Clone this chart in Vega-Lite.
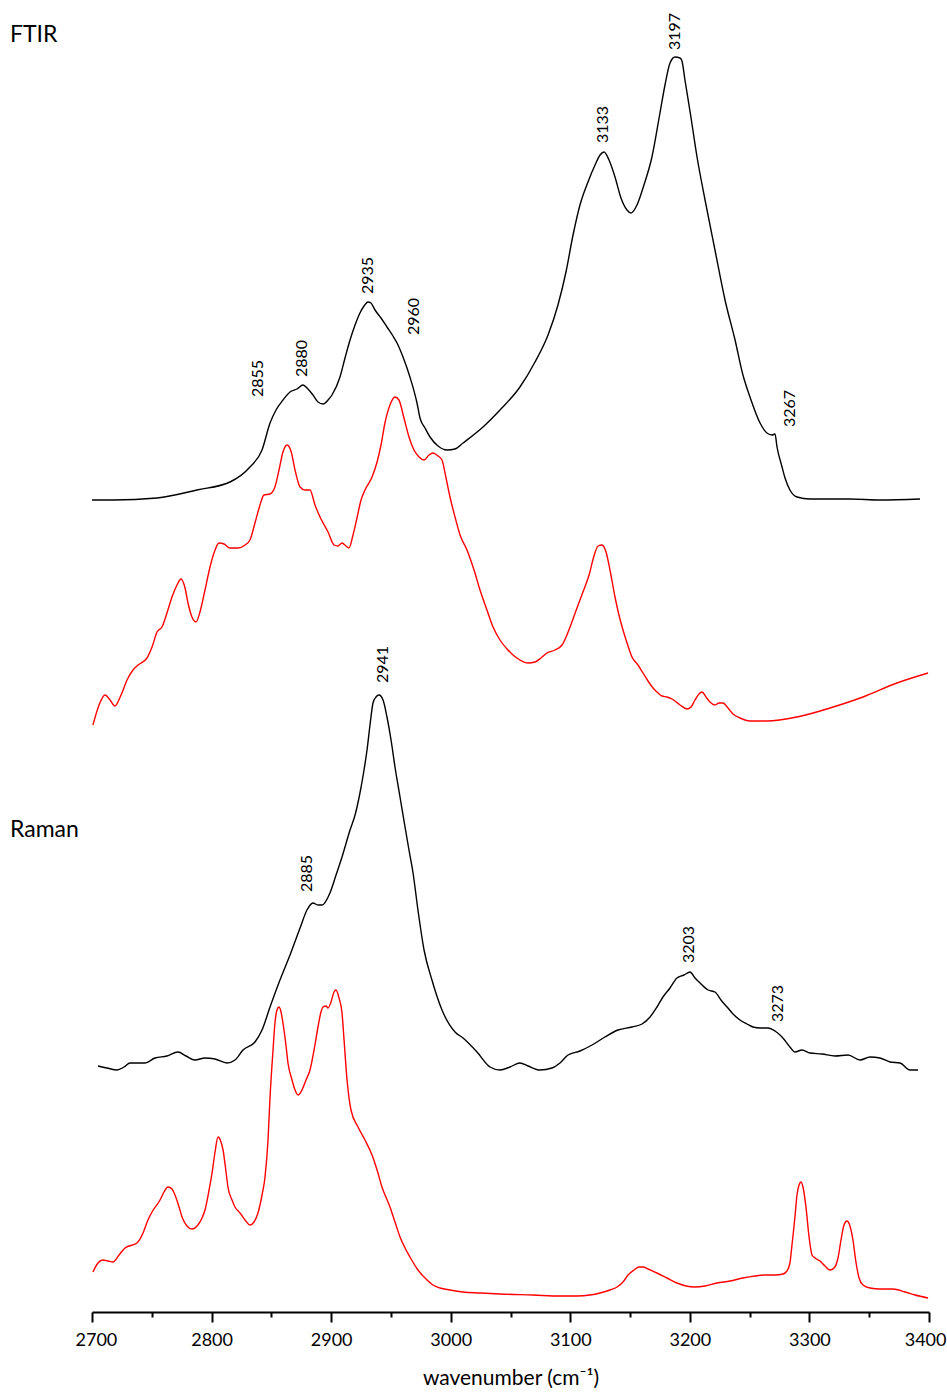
{
"$schema": "https://vega.github.io/schema/vega-lite/v6.json",
"width": 837, "height": 1312,
"autosize": {"type": "none"},
"padding": {"left": 92, "top": 0, "right": 18, "bottom": 80},
"background": "white",
"config": {"view": {"stroke": null}, "font": "Lato"},
"datasets": {
"spectra": [
{"s":"FTIR","wn":2700,"v":812},{"s":"FTIR","wn":2717.6,"v":812},{"s":"FTIR","wn":2754.4,"v":814},{"s":"FTIR","wn":2787.8,"v":822},{"s":"FTIR","wn":2815.4,"v":830},{"s":"FTIR","wn":2832.1,"v":845},{"s":"FTIR","wn":2842.2,"v":862},{"s":"FTIR","wn":2848.9,"v":889},{"s":"FTIR","wn":2853.9,"v":902},{"s":"FTIR","wn":2859.7,"v":912},{"s":"FTIR","wn":2865.6,"v":920},{"s":"FTIR","wn":2871.4,"v":923},{"s":"FTIR","wn":2876.5,"v":927},{"s":"FTIR","wn":2880.6,"v":923},{"s":"FTIR","wn":2884.8,"v":917},{"s":"FTIR","wn":2889.0,"v":910},{"s":"FTIR","wn":2893.2,"v":908},{"s":"FTIR","wn":2897.4,"v":912},{"s":"FTIR","wn":2900.7,"v":917},{"s":"FTIR","wn":2907.4,"v":935},{"s":"FTIR","wn":2911.6,"v":954},{"s":"FTIR","wn":2915.8,"v":972},{"s":"FTIR","wn":2920.0,"v":987},{"s":"FTIR","wn":2924.1,"v":999},{"s":"FTIR","wn":2927.5,"v":1006},{"s":"FTIR","wn":2930.8,"v":1010},{"s":"FTIR","wn":2933.3,"v":1009},{"s":"FTIR","wn":2936.7,"v":1002},{"s":"FTIR","wn":2941.7,"v":994},{"s":"FTIR","wn":2946.7,"v":985},{"s":"FTIR","wn":2951.7,"v":976},{"s":"FTIR","wn":2955.1,"v":969},{"s":"FTIR","wn":2960.1,"v":955},{"s":"FTIR","wn":2965.9,"v":935},{"s":"FTIR","wn":2971.8,"v":909},{"s":"FTIR","wn":2974.3,"v":894},{"s":"FTIR","wn":2978.5,"v":884},{"s":"FTIR","wn":2982.7,"v":875},{"s":"FTIR","wn":2989.4,"v":866},{"s":"FTIR","wn":2996.9,"v":862},{"s":"FTIR","wn":3003.6,"v":863},{"s":"FTIR","wn":3010.3,"v":869},{"s":"FTIR","wn":3027.0,"v":885},{"s":"FTIR","wn":3041.2,"v":902},{"s":"FTIR","wn":3057.9,"v":925},{"s":"FTIR","wn":3070.5,"v":950},{"s":"FTIR","wn":3081.4,"v":977},{"s":"FTIR","wn":3089.7,"v":1007},{"s":"FTIR","wn":3096.4,"v":1040},{"s":"FTIR","wn":3102.3,"v":1077},{"s":"FTIR","wn":3108.1,"v":1107},{"s":"FTIR","wn":3114.8,"v":1130},{"s":"FTIR","wn":3120.7,"v":1147},{"s":"FTIR","wn":3124.9,"v":1157},{"s":"FTIR","wn":3128.2,"v":1160},{"s":"FTIR","wn":3132.4,"v":1152},{"s":"FTIR","wn":3137.4,"v":1135},{"s":"FTIR","wn":3142.4,"v":1114},{"s":"FTIR","wn":3147.4,"v":1102},{"s":"FTIR","wn":3150.8,"v":1099},{"s":"FTIR","wn":3155.8,"v":1107},{"s":"FTIR","wn":3161.6,"v":1127},{"s":"FTIR","wn":3168.3,"v":1155},{"s":"FTIR","wn":3175.0,"v":1199},{"s":"FTIR","wn":3179.2,"v":1227},{"s":"FTIR","wn":3183.4,"v":1249},{"s":"FTIR","wn":3187.6,"v":1255},{"s":"FTIR","wn":3191.8,"v":1254},{"s":"FTIR","wn":3193.4,"v":1251},{"s":"FTIR","wn":3195.9,"v":1232},{"s":"FTIR","wn":3201.0,"v":1194},{"s":"FTIR","wn":3206.0,"v":1155},{"s":"FTIR","wn":3212.7,"v":1112},{"s":"FTIR","wn":3221.0,"v":1062},{"s":"FTIR","wn":3229.4,"v":1012},{"s":"FTIR","wn":3237.8,"v":972},{"s":"FTIR","wn":3244.4,"v":937},{"s":"FTIR","wn":3250.3,"v":915},{"s":"FTIR","wn":3258.7,"v":889},{"s":"FTIR","wn":3264.5,"v":879},{"s":"FTIR","wn":3268.7,"v":877},{"s":"FTIR","wn":3271.2,"v":878},{"s":"FTIR","wn":3272.9,"v":865},{"s":"FTIR","wn":3277.1,"v":845},{"s":"FTIR","wn":3279.6,"v":834},{"s":"FTIR","wn":3283.7,"v":822},{"s":"FTIR","wn":3289.6,"v":815},{"s":"FTIR","wn":3300.5,"v":813},{"s":"FTIR","wn":3333.9,"v":813},{"s":"FTIR","wn":3359.0,"v":812},{"s":"FTIR","wn":3392.5,"v":813},
{"s":"FTIR calc","wn":2700.8,"v":587},{"s":"FTIR calc","wn":2705.9,"v":607},{"s":"FTIR calc","wn":2710.9,"v":617},{"s":"FTIR calc","wn":2715.1,"v":612},{"s":"FTIR calc","wn":2719.2,"v":606},{"s":"FTIR calc","wn":2724.3,"v":617},{"s":"FTIR calc","wn":2729.3,"v":632},{"s":"FTIR calc","wn":2734.3,"v":642},{"s":"FTIR calc","wn":2738.5,"v":647},{"s":"FTIR calc","wn":2746.0,"v":654},{"s":"FTIR calc","wn":2750.2,"v":665},{"s":"FTIR calc","wn":2754.4,"v":680},{"s":"FTIR calc","wn":2758.5,"v":685},{"s":"FTIR calc","wn":2762.7,"v":699},{"s":"FTIR calc","wn":2766.9,"v":715},{"s":"FTIR calc","wn":2771.1,"v":727},{"s":"FTIR calc","wn":2774.4,"v":733},{"s":"FTIR calc","wn":2777.8,"v":724},{"s":"FTIR calc","wn":2780.3,"v":709},{"s":"FTIR calc","wn":2783.6,"v":695},{"s":"FTIR calc","wn":2787.0,"v":690},{"s":"FTIR calc","wn":2790.3,"v":700},{"s":"FTIR calc","wn":2794.5,"v":722},{"s":"FTIR calc","wn":2798.7,"v":745},{"s":"FTIR calc","wn":2802.9,"v":762},{"s":"FTIR calc","wn":2806.2,"v":769},{"s":"FTIR calc","wn":2810.4,"v":768},{"s":"FTIR calc","wn":2815.4,"v":764},{"s":"FTIR calc","wn":2822.1,"v":764},{"s":"FTIR calc","wn":2828.0,"v":767},{"s":"FTIR calc","wn":2832.1,"v":772},{"s":"FTIR calc","wn":2836.3,"v":789},{"s":"FTIR calc","wn":2840.5,"v":807},{"s":"FTIR calc","wn":2843.8,"v":817},{"s":"FTIR calc","wn":2848.9,"v":818},{"s":"FTIR calc","wn":2853.0,"v":825},{"s":"FTIR calc","wn":2856.4,"v":842},{"s":"FTIR calc","wn":2859.7,"v":860},{"s":"FTIR calc","wn":2863.1,"v":867},{"s":"FTIR calc","wn":2866.4,"v":861},{"s":"FTIR calc","wn":2869.8,"v":842},{"s":"FTIR calc","wn":2874.0,"v":825},{"s":"FTIR calc","wn":2878.1,"v":822},{"s":"FTIR calc","wn":2882.3,"v":822},{"s":"FTIR calc","wn":2886.5,"v":807},{"s":"FTIR calc","wn":2890.7,"v":795},{"s":"FTIR calc","wn":2897.4,"v":780},{"s":"FTIR calc","wn":2902.4,"v":767},{"s":"FTIR calc","wn":2905.7,"v":766},{"s":"FTIR calc","wn":2909.1,"v":769},{"s":"FTIR calc","wn":2912.4,"v":766},{"s":"FTIR calc","wn":2914.9,"v":764},{"s":"FTIR calc","wn":2918.3,"v":777},{"s":"FTIR calc","wn":2921.6,"v":794},{"s":"FTIR calc","wn":2925.0,"v":812},{"s":"FTIR calc","wn":2928.3,"v":822},{"s":"FTIR calc","wn":2934.2,"v":835},{"s":"FTIR calc","wn":2938.4,"v":850},{"s":"FTIR calc","wn":2941.7,"v":867},{"s":"FTIR calc","wn":2945.0,"v":889},{"s":"FTIR calc","wn":2949.2,"v":907},{"s":"FTIR calc","wn":2953.4,"v":915},{"s":"FTIR calc","wn":2956.7,"v":912},{"s":"FTIR calc","wn":2960.9,"v":894},{"s":"FTIR calc","wn":2965.1,"v":875},{"s":"FTIR calc","wn":2969.3,"v":862},{"s":"FTIR calc","wn":2973.5,"v":855},{"s":"FTIR calc","wn":2977.7,"v":852},{"s":"FTIR calc","wn":2981.8,"v":857},{"s":"FTIR calc","wn":2985.2,"v":859},{"s":"FTIR calc","wn":2989.4,"v":856},{"s":"FTIR calc","wn":2992.7,"v":852},{"s":"FTIR calc","wn":2996.1,"v":834},{"s":"FTIR calc","wn":2999.4,"v":815},{"s":"FTIR calc","wn":3003.6,"v":795},{"s":"FTIR calc","wn":3007.8,"v":777},{"s":"FTIR calc","wn":3013.6,"v":762},{"s":"FTIR calc","wn":3019.5,"v":742},{"s":"FTIR calc","wn":3024.5,"v":722},{"s":"FTIR calc","wn":3030.3,"v":702},{"s":"FTIR calc","wn":3035.4,"v":685},{"s":"FTIR calc","wn":3041.2,"v":672},{"s":"FTIR calc","wn":3047.1,"v":663},{"s":"FTIR calc","wn":3052.1,"v":657},{"s":"FTIR calc","wn":3057.9,"v":652},{"s":"FTIR calc","wn":3064.6,"v":649},{"s":"FTIR calc","wn":3070.5,"v":650},{"s":"FTIR calc","wn":3075.5,"v":654},{"s":"FTIR calc","wn":3080.5,"v":659},{"s":"FTIR calc","wn":3087.2,"v":662},{"s":"FTIR calc","wn":3093.1,"v":667},{"s":"FTIR calc","wn":3099.8,"v":685},{"s":"FTIR calc","wn":3105.6,"v":704},{"s":"FTIR calc","wn":3110.6,"v":720},{"s":"FTIR calc","wn":3115.7,"v":737},{"s":"FTIR calc","wn":3119.8,"v":756},{"s":"FTIR calc","wn":3123.2,"v":766},{"s":"FTIR calc","wn":3126.5,"v":767},{"s":"FTIR calc","wn":3129.9,"v":760},{"s":"FTIR calc","wn":3133.2,"v":742},{"s":"FTIR calc","wn":3137.4,"v":715},{"s":"FTIR calc","wn":3140.7,"v":697},{"s":"FTIR calc","wn":3144.1,"v":682},{"s":"FTIR calc","wn":3148.3,"v":666},{"s":"FTIR calc","wn":3151.6,"v":655},{"s":"FTIR calc","wn":3156.6,"v":647},{"s":"FTIR calc","wn":3160.8,"v":639},{"s":"FTIR calc","wn":3165.0,"v":631},{"s":"FTIR calc","wn":3169.2,"v":624},{"s":"FTIR calc","wn":3173.4,"v":619},{"s":"FTIR calc","wn":3176.7,"v":616},{"s":"FTIR calc","wn":3180.9,"v":615},{"s":"FTIR calc","wn":3185.1,"v":613},{"s":"FTIR calc","wn":3191.8,"v":607},{"s":"FTIR calc","wn":3197.6,"v":603},{"s":"FTIR calc","wn":3201.0,"v":605},{"s":"FTIR calc","wn":3204.3,"v":612},{"s":"FTIR calc","wn":3207.6,"v":618},{"s":"FTIR calc","wn":3210.2,"v":620},{"s":"FTIR calc","wn":3213.5,"v":615},{"s":"FTIR calc","wn":3216.8,"v":610},{"s":"FTIR calc","wn":3221.0,"v":607},{"s":"FTIR calc","wn":3224.4,"v":609},{"s":"FTIR calc","wn":3227.7,"v":609},{"s":"FTIR calc","wn":3231.9,"v":604},{"s":"FTIR calc","wn":3236.1,"v":598},{"s":"FTIR calc","wn":3241.9,"v":594},{"s":"FTIR calc","wn":3250.3,"v":591},{"s":"FTIR calc","wn":3264.5,"v":591},{"s":"FTIR calc","wn":3289.6,"v":595},{"s":"FTIR calc","wn":3317.2,"v":604},{"s":"FTIR calc","wn":3344.8,"v":615},{"s":"FTIR calc","wn":3373.2,"v":629},{"s":"FTIR calc","wn":3399.2,"v":639},
{"s":"Raman","wn":2705.0,"v":246},{"s":"Raman","wn":2712.5,"v":244},{"s":"Raman","wn":2720.9,"v":242},{"s":"Raman","wn":2726.8,"v":245},{"s":"Raman","wn":2731.8,"v":249},{"s":"Raman","wn":2744.3,"v":249},{"s":"Raman","wn":2752.7,"v":254},{"s":"Raman","wn":2762.7,"v":256},{"s":"Raman","wn":2771.9,"v":260},{"s":"Raman","wn":2778.6,"v":256},{"s":"Raman","wn":2786.1,"v":252},{"s":"Raman","wn":2794.5,"v":254},{"s":"Raman","wn":2802.9,"v":253},{"s":"Raman","wn":2812.9,"v":249},{"s":"Raman","wn":2819.6,"v":252},{"s":"Raman","wn":2826.3,"v":262},{"s":"Raman","wn":2836.3,"v":270},{"s":"Raman","wn":2842.2,"v":282},{"s":"Raman","wn":2848.9,"v":305},{"s":"Raman","wn":2857.2,"v":332},{"s":"Raman","wn":2865.6,"v":357},{"s":"Raman","wn":2874.0,"v":384},{"s":"Raman","wn":2879.8,"v":402},{"s":"Raman","wn":2884.8,"v":409},{"s":"Raman","wn":2889.0,"v":407},{"s":"Raman","wn":2892.4,"v":407},{"s":"Raman","wn":2899.0,"v":419},{"s":"Raman","wn":2904.1,"v":437},{"s":"Raman","wn":2909.1,"v":455},{"s":"Raman","wn":2915.8,"v":482},{"s":"Raman","wn":2920.0,"v":497},{"s":"Raman","wn":2924.1,"v":519},{"s":"Raman","wn":2927.5,"v":542},{"s":"Raman","wn":2930.0,"v":562},{"s":"Raman","wn":2932.5,"v":587},{"s":"Raman","wn":2935.0,"v":609},{"s":"Raman","wn":2937.5,"v":615},{"s":"Raman","wn":2940.0,"v":617},{"s":"Raman","wn":2943.4,"v":612},{"s":"Raman","wn":2946.7,"v":595},{"s":"Raman","wn":2950.1,"v":572},{"s":"Raman","wn":2953.4,"v":545},{"s":"Raman","wn":2957.6,"v":515},{"s":"Raman","wn":2961.8,"v":485},{"s":"Raman","wn":2965.1,"v":462},{"s":"Raman","wn":2968.5,"v":439},{"s":"Raman","wn":2972.6,"v":402},{"s":"Raman","wn":2977.7,"v":362},{"s":"Raman","wn":2984.3,"v":332},{"s":"Raman","wn":2992.7,"v":302},{"s":"Raman","wn":3003.6,"v":280},{"s":"Raman","wn":3010.3,"v":274},{"s":"Raman","wn":3022.0,"v":260},{"s":"Raman","wn":3032.9,"v":245},{"s":"Raman","wn":3041.2,"v":242},{"s":"Raman","wn":3049.6,"v":245},{"s":"Raman","wn":3057.9,"v":249},{"s":"Raman","wn":3064.6,"v":246},{"s":"Raman","wn":3074.7,"v":242},{"s":"Raman","wn":3084.7,"v":244},{"s":"Raman","wn":3091.4,"v":249},{"s":"Raman","wn":3098.1,"v":257},{"s":"Raman","wn":3108.1,"v":261},{"s":"Raman","wn":3118.2,"v":267},{"s":"Raman","wn":3129.0,"v":275},{"s":"Raman","wn":3139.9,"v":282},{"s":"Raman","wn":3151.6,"v":285},{"s":"Raman","wn":3160.0,"v":288},{"s":"Raman","wn":3166.7,"v":295},{"s":"Raman","wn":3172.5,"v":305},{"s":"Raman","wn":3177.5,"v":315},{"s":"Raman","wn":3183.4,"v":324},{"s":"Raman","wn":3189.2,"v":334},{"s":"Raman","wn":3195.1,"v":337},{"s":"Raman","wn":3200.1,"v":340},{"s":"Raman","wn":3204.3,"v":334},{"s":"Raman","wn":3208.5,"v":329},{"s":"Raman","wn":3215.2,"v":322},{"s":"Raman","wn":3221.0,"v":320},{"s":"Raman","wn":3226.0,"v":312},{"s":"Raman","wn":3231.1,"v":305},{"s":"Raman","wn":3236.1,"v":298},{"s":"Raman","wn":3241.9,"v":292},{"s":"Raman","wn":3247.8,"v":288},{"s":"Raman","wn":3252.8,"v":285},{"s":"Raman","wn":3258.7,"v":284},{"s":"Raman","wn":3265.4,"v":284},{"s":"Raman","wn":3271.2,"v":281},{"s":"Raman","wn":3277.1,"v":275},{"s":"Raman","wn":3283.7,"v":265},{"s":"Raman","wn":3287.9,"v":260},{"s":"Raman","wn":3293.8,"v":262},{"s":"Raman","wn":3300.5,"v":259},{"s":"Raman","wn":3310.5,"v":258},{"s":"Raman","wn":3321.4,"v":256},{"s":"Raman","wn":3332.3,"v":257},{"s":"Raman","wn":3342.3,"v":252},{"s":"Raman","wn":3350.7,"v":255},{"s":"Raman","wn":3359.0,"v":254},{"s":"Raman","wn":3367.4,"v":250},{"s":"Raman","wn":3375.8,"v":249},{"s":"Raman","wn":3384.1,"v":242},{"s":"Raman","wn":3390.8,"v":242},
{"s":"Raman calc","wn":2700.8,"v":40},{"s":"Raman calc","wn":2705.0,"v":49},{"s":"Raman calc","wn":2709.2,"v":52},{"s":"Raman calc","wn":2713.4,"v":51},{"s":"Raman calc","wn":2717.6,"v":50},{"s":"Raman calc","wn":2722.6,"v":57},{"s":"Raman calc","wn":2727.6,"v":64},{"s":"Raman calc","wn":2737.6,"v":69},{"s":"Raman calc","wn":2742.7,"v":79},{"s":"Raman calc","wn":2746.8,"v":92},{"s":"Raman calc","wn":2750.2,"v":100},{"s":"Raman calc","wn":2756.9,"v":112},{"s":"Raman calc","wn":2760.2,"v":120},{"s":"Raman calc","wn":2763.6,"v":125},{"s":"Raman calc","wn":2766.9,"v":123},{"s":"Raman calc","wn":2769.4,"v":117},{"s":"Raman calc","wn":2772.8,"v":105},{"s":"Raman calc","wn":2775.3,"v":95},{"s":"Raman calc","wn":2779.4,"v":86},{"s":"Raman calc","wn":2783.6,"v":83},{"s":"Raman calc","wn":2788.6,"v":87},{"s":"Raman calc","wn":2792.0,"v":94},{"s":"Raman calc","wn":2794.5,"v":102},{"s":"Raman calc","wn":2797.9,"v":122},{"s":"Raman calc","wn":2800.4,"v":139},{"s":"Raman calc","wn":2802.9,"v":160},{"s":"Raman calc","wn":2805.4,"v":175},{"s":"Raman calc","wn":2807.9,"v":170},{"s":"Raman calc","wn":2809.6,"v":162},{"s":"Raman calc","wn":2812.1,"v":140},{"s":"Raman calc","wn":2813.7,"v":125},{"s":"Raman calc","wn":2817.1,"v":112},{"s":"Raman calc","wn":2819.6,"v":105},{"s":"Raman calc","wn":2823.8,"v":99},{"s":"Raman calc","wn":2828.0,"v":92},{"s":"Raman calc","wn":2832.1,"v":87},{"s":"Raman calc","wn":2835.5,"v":90},{"s":"Raman calc","wn":2838.8,"v":99},{"s":"Raman calc","wn":2842.2,"v":117},{"s":"Raman calc","wn":2844.7,"v":135},{"s":"Raman calc","wn":2847.2,"v":172},{"s":"Raman calc","wn":2848.9,"v":215},{"s":"Raman calc","wn":2851.4,"v":262},{"s":"Raman calc","wn":2853.0,"v":289},{"s":"Raman calc","wn":2854.7,"v":302},{"s":"Raman calc","wn":2856.4,"v":305},{"s":"Raman calc","wn":2858.1,"v":300},{"s":"Raman calc","wn":2859.7,"v":289},{"s":"Raman calc","wn":2862.2,"v":267},{"s":"Raman calc","wn":2863.9,"v":249},{"s":"Raman calc","wn":2867.3,"v":232},{"s":"Raman calc","wn":2869.8,"v":222},{"s":"Raman calc","wn":2872.3,"v":217},{"s":"Raman calc","wn":2875.6,"v":222},{"s":"Raman calc","wn":2879.0,"v":232},{"s":"Raman calc","wn":2882.3,"v":242},{"s":"Raman calc","wn":2885.7,"v":262},{"s":"Raman calc","wn":2889.0,"v":285},{"s":"Raman calc","wn":2891.5,"v":300},{"s":"Raman calc","wn":2893.2,"v":305},{"s":"Raman calc","wn":2895.7,"v":306},{"s":"Raman calc","wn":2897.4,"v":304},{"s":"Raman calc","wn":2899.9,"v":310},{"s":"Raman calc","wn":2902.4,"v":320},{"s":"Raman calc","wn":2904.1,"v":322},{"s":"Raman calc","wn":2906.6,"v":314},{"s":"Raman calc","wn":2909.1,"v":299},{"s":"Raman calc","wn":2910.8,"v":272},{"s":"Raman calc","wn":2913.3,"v":232},{"s":"Raman calc","wn":2916.6,"v":202},{"s":"Raman calc","wn":2922.5,"v":185},{"s":"Raman calc","wn":2928.3,"v":172},{"s":"Raman calc","wn":2934.2,"v":157},{"s":"Raman calc","wn":2938.4,"v":142},{"s":"Raman calc","wn":2942.5,"v":125},{"s":"Raman calc","wn":2949.2,"v":105},{"s":"Raman calc","wn":2953.4,"v":90},{"s":"Raman calc","wn":2957.6,"v":75},{"s":"Raman calc","wn":2961.8,"v":64},{"s":"Raman calc","wn":2965.9,"v":55},{"s":"Raman calc","wn":2972.6,"v":42},{"s":"Raman calc","wn":2980.2,"v":32},{"s":"Raman calc","wn":2985.2,"v":27},{"s":"Raman calc","wn":2991.0,"v":24},{"s":"Raman calc","wn":2999.4,"v":22},{"s":"Raman calc","wn":3010.3,"v":20},{"s":"Raman calc","wn":3024.5,"v":19},{"s":"Raman calc","wn":3041.2,"v":18},{"s":"Raman calc","wn":3068.8,"v":17},{"s":"Raman calc","wn":3091.4,"v":16},{"s":"Raman calc","wn":3105.6,"v":16},{"s":"Raman calc","wn":3116.5,"v":17},{"s":"Raman calc","wn":3124.9,"v":19},{"s":"Raman calc","wn":3133.2,"v":22},{"s":"Raman calc","wn":3139.1,"v":25},{"s":"Raman calc","wn":3144.1,"v":30},{"s":"Raman calc","wn":3148.3,"v":37},{"s":"Raman calc","wn":3153.3,"v":42},{"s":"Raman calc","wn":3157.5,"v":45},{"s":"Raman calc","wn":3160.8,"v":45},{"s":"Raman calc","wn":3165.0,"v":43},{"s":"Raman calc","wn":3172.5,"v":39},{"s":"Raman calc","wn":3180.9,"v":34},{"s":"Raman calc","wn":3189.2,"v":29},{"s":"Raman calc","wn":3196.8,"v":26},{"s":"Raman calc","wn":3204.3,"v":25},{"s":"Raman calc","wn":3212.7,"v":26},{"s":"Raman calc","wn":3222.7,"v":29},{"s":"Raman calc","wn":3233.6,"v":31},{"s":"Raman calc","wn":3244.4,"v":34},{"s":"Raman calc","wn":3254.5,"v":36},{"s":"Raman calc","wn":3262.8,"v":37},{"s":"Raman calc","wn":3271.2,"v":37},{"s":"Raman calc","wn":3277.9,"v":38},{"s":"Raman calc","wn":3281.2,"v":41},{"s":"Raman calc","wn":3283.7,"v":49},{"s":"Raman calc","wn":3285.4,"v":67},{"s":"Raman calc","wn":3287.9,"v":95},{"s":"Raman calc","wn":3289.6,"v":117},{"s":"Raman calc","wn":3291.3,"v":127},{"s":"Raman calc","wn":3293.0,"v":130},{"s":"Raman calc","wn":3294.6,"v":125},{"s":"Raman calc","wn":3297.1,"v":105},{"s":"Raman calc","wn":3299.7,"v":75},{"s":"Raman calc","wn":3302.2,"v":57},{"s":"Raman calc","wn":3304.7,"v":54},{"s":"Raman calc","wn":3308.8,"v":51},{"s":"Raman calc","wn":3313.0,"v":46},{"s":"Raman calc","wn":3317.2,"v":42},{"s":"Raman calc","wn":3320.6,"v":44},{"s":"Raman calc","wn":3323.9,"v":54},{"s":"Raman calc","wn":3326.4,"v":72},{"s":"Raman calc","wn":3328.9,"v":87},{"s":"Raman calc","wn":3331.4,"v":91},{"s":"Raman calc","wn":3333.9,"v":86},{"s":"Raman calc","wn":3336.4,"v":72},{"s":"Raman calc","wn":3338.9,"v":50},{"s":"Raman calc","wn":3341.5,"v":34},{"s":"Raman calc","wn":3344.8,"v":27},{"s":"Raman calc","wn":3350.7,"v":24},{"s":"Raman calc","wn":3359.0,"v":23},{"s":"Raman calc","wn":3369.9,"v":23},{"s":"Raman calc","wn":3379.9,"v":20},{"s":"Raman calc","wn":3388.3,"v":17},{"s":"Raman calc","wn":3399.2,"v":14}
],
"peaks": [
{"t":"2855","wn":2838.8,"v":915},{"t":"2880","wn":2875.6,"v":935},{"t":"2935","wn":2930.8,"v":1018},{"t":"2960","wn":2969.3,"v":977},{"t":"3133","wn":3127.4,"v":1169},{"t":"3197","wn":3187.6,"v":1262},{"t":"3267","wn":3283.7,"v":885},
{"t":"2941","wn":2943.4,"v":629},{"t":"2885","wn":2879.8,"v":420},{"t":"3203","wn":3199.3,"v":349},{"t":"3273","wn":3273.7,"v":290}
],
"panels": [
{"t":"FTIR","wn":2631.4,"v":1277},{"t":"Raman","wn":2631.4,"v":482}
]
},
"layer": [
{
"data": {"name": "spectra"},
"mark": {"type": "line", "strokeWidth": 1.4, "interpolate": "monotone", "clip": false},
"encoding": {
"x": {"field": "wn", "type": "quantitative", "scale": {"domain": [2700, 3400], "nice": false, "zero": false},
"axis": {"orient": "bottom", "values": [2700, 2750, 2800, 2850, 2900, 2950, 3000, 3050, 3100, 3150, 3200, 3250, 3300, 3350, 3400],
"labelExpr": "datum.value % 100 === 0 ? format(datum.value, 'd') : ''",
"grid": false, "domainColor": "black", "domainWidth": 2, "tickColor": "black", "tickWidth": 2,
"tickSize": {"condition": {"test": "datum.value % 100 === 0", "value": 10}, "value": 5},
"labelColor": "black", "labelFontSize": 18, "labelFont": "Lato", "labelPadding": 9, "labelFlush": true, "labelFlushOffset": 17, "labelOverlap": false, "labelBound": false,
"title": "wavenumber (cm⁻¹)", "titleFont": "Lato", "titleFontSize": 21, "titleFontWeight": "normal", "titleColor": "black", "titlePadding": 18}},
"y": {"field": "v", "type": "quantitative", "scale": {"domain": [0, 1312], "nice": false, "zero": false}, "axis": null},
"color": {"field": "s", "type": "nominal", "scale": {"domain": ["FTIR", "FTIR calc", "Raman", "Raman calc"], "range": ["#000000", "#ff0000", "#000000", "#ff0000"]}, "legend": null},
"detail": {"field": "s"}
}
},
{
"data": {"name": "peaks"},
"mark": {"type": "text", "angle": 270, "align": "left", "baseline": "middle", "fontSize": 16, "font": "Lato", "color": "black", "clip": false},
"encoding": {
"x": {"field": "wn", "type": "quantitative"},
"y": {"field": "v", "type": "quantitative"},
"text": {"field": "t"}
}
},
{
"data": {"name": "panels"},
"mark": {"type": "text", "align": "left", "baseline": "middle", "fontSize": 23, "font": "Lato", "color": "black", "clip": false},
"encoding": {
"x": {"field": "wn", "type": "quantitative"},
"y": {"field": "v", "type": "quantitative"},
"text": {"field": "t"}
}
}
]
}
